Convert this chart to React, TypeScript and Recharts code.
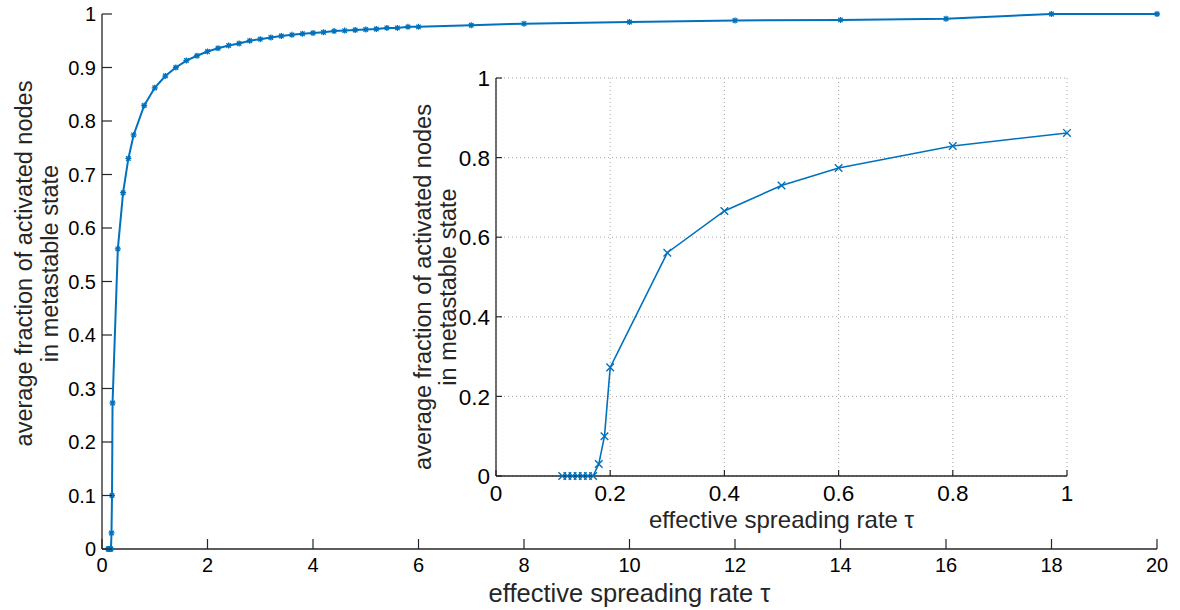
import { LineChart, Line, XAxis, YAxis, CartesianGrid, Label } from "recharts";

const tau = [
  0.116, 0.125, 0.134, 0.143, 0.152, 0.161, 0.17, 0.18, 0.19, 0.2,
  0.3, 0.4, 0.5, 0.6, 0.8, 1.0,
  1.2, 1.4, 1.6, 1.8, 2.0, 2.2, 2.4, 2.6, 2.8, 3.0, 3.2, 3.4, 3.6, 3.8,
  4.0, 4.2, 4.4, 4.6, 4.8, 5.0, 5.2, 5.4, 5.6, 5.8, 6.0,
  7, 8, 10, 12, 14, 16, 18, 20,
];
const activeFraction = [
  0, 0, 0, 0, 0, 0, 0, 0.03, 0.1, 0.273,
  0.561, 0.666, 0.73, 0.774, 0.829, 0.862,
  0.884, 0.9, 0.913, 0.922, 0.93, 0.936, 0.941, 0.945, 0.95, 0.953, 0.956, 0.959, 0.961, 0.963,
  0.9645, 0.966, 0.968, 0.969, 0.97, 0.971, 0.972, 0.974, 0.974, 0.976, 0.976,
  0.979, 0.982, 0.985, 0.988, 0.989, 0.991, 1, 1,
];

const mainXTicks = [0, 2, 4, 6, 8, 10, 12, 14, 16, 18, 20];
const mainYTicks = [0, 0.1, 0.2, 0.3, 0.4, 0.5, 0.6, 0.7, 0.8, 0.9, 1];
const insetXTicks = [0, 0.2, 0.4, 0.6, 0.8, 1];
const insetYTicks = [0, 0.2, 0.4, 0.6, 0.8, 1];

const xTitle = "effective spreading rate \u03c4";
const yTitle = ["average fraction of activated nodes", "in metastable state"];

const mainData = tau.map((t, i) => ({ tau: t, frac: activeFraction[i] }));
const insetData = mainData.filter((d) => d.tau <= 1);

const BLUE = "#0072BD";
const INK = "#262626";
const FONT = "'Liberation Sans', Arial, Helvetica, sans-serif";

// ticks point inward (matlab style), labels sit outside
function makeTick(side: string, len: number, fontSize: number, margin: number, showLabel: boolean) {
  return (props: any) => {
    const { x, y, payload } = props;
    let line;
    let label = null;
    if (side === "bottom") {
      const ay = y - margin;
      line = <line x1={x} x2={x} y1={ay} y2={ay - len} stroke={INK} strokeWidth={1.2} />;
      if (showLabel)
        label = (
          <text x={x} y={y} dy="0.8em" textAnchor="middle" fontSize={fontSize} fontFamily={FONT} fill="#000">
            {payload.value}
          </text>
        );
    } else if (side === "left") {
      const ax = x + margin;
      line = <line x1={ax} x2={ax + len} y1={y} y2={y} stroke={INK} strokeWidth={1.2} />;
      if (showLabel)
        label = (
          <text x={x} y={y} dy="0.36em" textAnchor="end" fontSize={fontSize} fontFamily={FONT} fill="#000">
            {payload.value}
          </text>
        );
    } else if (side === "top") {
      line = <line x1={x} x2={x} y1={y} y2={y + len} stroke={INK} strokeWidth={1.2} />;
    } else {
      line = <line x1={x} x2={x - len} y1={y} y2={y} stroke={INK} strokeWidth={1.2} />;
    }
    return (
      <g>
        {line}
        {label}
      </g>
    );
  };
}

const StarDot = (props: any) => {
  const { cx, cy, index } = props;
  const r = 3;
  const d = `M${cx - r},${cy}L${cx + r},${cy}M${cx},${cy - r}L${cx},${cy + r}M${cx - r * 0.75},${cy - r * 0.75}L${cx + r * 0.75},${cy + r * 0.75}M${cx - r * 0.75},${cy + r * 0.75}L${cx + r * 0.75},${cy - r * 0.75}`;
  return <path key={`s${index}`} d={d} stroke={BLUE} strokeWidth={1.3} fill="none" />;
};

const CrossDot = (props: any) => {
  const { cx, cy, index } = props;
  const r = 3.8;
  const d = `M${cx - r},${cy - r}L${cx + r},${cy + r}M${cx - r},${cy + r}L${cx + r},${cy - r}`;
  return <path key={`c${index}`} d={d} stroke={BLUE} strokeWidth={1.4} fill="none" />;
};

function yTitleContent(x1: number, x2: number, cyOffset: number, fontSize: number) {
  return (props: any) => {
    const vb = props.viewBox;
    const cy = vb.y + vb.height / 2 + cyOffset;
    const lx1 = vb.x + x1;
    const lx2 = vb.x + x2;
    return (
      <g fontFamily={FONT} fontSize={fontSize} fill={INK}>
        <text x={lx1} y={cy} dy="0.35em" textAnchor="middle" transform={`rotate(-90 ${lx1} ${cy})`}>
          {yTitle[0]}
        </text>
        <text x={lx2} y={cy} dy="0.35em" textAnchor="middle" transform={`rotate(-90 ${lx2} ${cy})`}>
          {yTitle[1]}
        </text>
      </g>
    );
  };
}

function xTitleContent(baseline: number, fontSize: number) {
  return (props: any) => {
    const vb = props.viewBox;
    return (
      <text x={vb.x + vb.width / 2} y={vb.y + baseline} textAnchor="middle" fontFamily={FONT} fontSize={fontSize} fill={INK}>
        {xTitle}
      </text>
    );
  };
}

const axisLine = { stroke: INK, strokeWidth: 1.3 };

export default function App() {
  return (
    <div style={{ position: "absolute", left: 0, top: 0, width: 1180, height: 610, background: "#fff" }}>
      <LineChart width={1180} height={610} data={mainData} margin={{ top: 14, right: 23, bottom: 1, left: 0 }}>
        <XAxis xAxisId="b" dataKey="tau" type="number" domain={[0, 20]} ticks={mainXTicks} interval={0}
          height={60} tickSize={0} tickMargin={7} tickLine={false} axisLine={axisLine}
          tick={makeTick("bottom", 10, 20, 7, true)}>
          <Label content={xTitleContent(53, 25.5)} />
        </XAxis>
        <XAxis xAxisId="t" orientation="top" dataKey="tau" type="number" domain={[0, 20]} ticks={mainXTicks}
          interval={0} height={0} tickSize={0} tickMargin={0} tickLine={false} axisLine={axisLine}
          tick={makeTick("top", 10, 0, 0, false)} />
        <YAxis yAxisId="l" type="number" domain={[0, 1]} ticks={mainYTicks} interval={0} width={102}
          tickSize={0} tickMargin={6} tickLine={false} axisLine={axisLine}
          tick={makeTick("left", 10, 20, 6, true)}>
          <Label content={yTitleContent(24, 50, -18, 23.5)} />
        </YAxis>
        <YAxis yAxisId="r" orientation="right" type="number" domain={[0, 1]} ticks={mainYTicks} interval={0}
          width={0} tickSize={0} tickMargin={0} tickLine={false} axisLine={axisLine}
          tick={makeTick("right", 10, 0, 0, false)} />
        <Line xAxisId="b" yAxisId="l" dataKey="frac" type="linear" stroke={BLUE} strokeWidth={2}
          dot={StarDot} activeDot={false} isAnimationActive={false} />
      </LineChart>

      <div style={{ position: "absolute", left: 400, top: 60, width: 690, height: 480 }}>
        <LineChart width={690} height={480} data={insetData} margin={{ top: 18, right: 23, bottom: 0, left: 0 }}>
          <CartesianGrid xAxisId="b" yAxisId="l" fill="#fff" stroke="#a8a8a8" strokeDasharray="1 3" />
          <XAxis xAxisId="b" dataKey="tau" type="number" domain={[0, 1]} ticks={insetXTicks} interval={0}
            height={64} tickSize={0} tickMargin={7} tickLine={false} axisLine={axisLine}
            tick={makeTick("bottom", 6, 22.5, 7, true)}>
            <Label content={xTitleContent(52, 24)} />
          </XAxis>
          <XAxis xAxisId="t" orientation="top" dataKey="tau" type="number" domain={[0, 1]} ticks={insetXTicks}
            interval={0} height={0} tickSize={0} tickMargin={0} tickLine={false} axisLine={axisLine}
            tick={makeTick("top", 6, 0, 0, false)} />
          <YAxis yAxisId="l" type="number" domain={[0, 1]} ticks={insetYTicks} interval={0} width={96}
            tickSize={0} tickMargin={6} tickLine={false} axisLine={axisLine}
            tick={makeTick("left", 6, 22.5, 6, true)}>
            <Label content={yTitleContent(23, 48, 10, 23.5)} />
          </YAxis>
          <YAxis yAxisId="r" orientation="right" type="number" domain={[0, 1]} ticks={insetYTicks} interval={0}
            width={0} tickSize={0} tickMargin={0} tickLine={false} axisLine={axisLine}
            tick={makeTick("right", 6, 0, 0, false)} />
          <Line xAxisId="b" yAxisId="l" dataKey="frac" type="linear" stroke={BLUE} strokeWidth={1.6}
            dot={CrossDot} activeDot={false} isAnimationActive={false} />
        </LineChart>
      </div>
    </div>
  );
}
